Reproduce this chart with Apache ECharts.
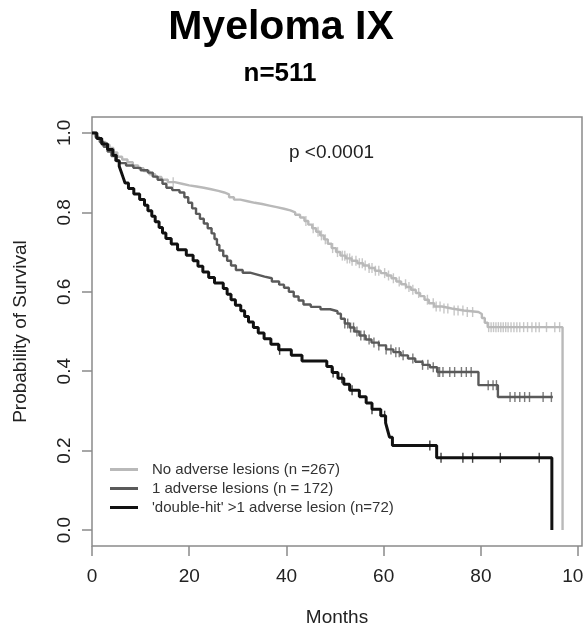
<!DOCTYPE html>
<html>
<head>
<meta charset="utf-8">
<title>Myeloma IX survival</title>
<script src="https://cdn.jsdelivr.net/npm/echarts@6/dist/echarts.min.js"></script>
<style>
  html, body { margin: 0; padding: 0; background: #fff; }
  #chart { width: 584px; height: 626px; }
</style>
</head>
<body>
<div id="chart"></div>
<script>
// Kaplan-Meier estimates: [month, survival after the event at that month]
const noAdverseCurve = [
  [0,1],[0.6,0.992],[1.2,0.985],[2,0.977],[2.8,0.970],[3.6,0.962],[4.4,0.951],[5.2,0.940],
  [6.2,0.933],[7.3,0.926],[8.4,0.918],[9.5,0.911],[10.6,0.904],[11.8,0.896],[13,0.889],
  [14.3,0.882],[15.6,0.876],[17,0.872],[18.5,0.868],[20,0.865],[21.5,0.862],[23,0.858],
  [24.5,0.854],[26,0.850],[27.2,0.845],[28.2,0.838],[29.2,0.832],[30.5,0.828],[32,0.824],
  [33.5,0.821],[35,0.817],[36.5,0.813],[38,0.809],[39.5,0.805],[40.8,0.800],[41.8,0.794],
  [42.8,0.787],[43.7,0.778],[44.5,0.769],[45.3,0.760],[46.1,0.751],[46.9,0.742],[47.7,0.732],
  [48.5,0.721],[49.3,0.710],[50.2,0.700],[51.1,0.691],[52.2,0.684],[53.4,0.678],[54.6,0.672],
  [55.8,0.666],[57,0.660],[58.2,0.653],[59.4,0.647],[60.6,0.641],[61.6,0.634],[62.6,0.626],
  [63.6,0.619],[64.6,0.612],[65.6,0.605],[66.6,0.597],[67.5,0.589],[68.4,0.580],[69.3,0.571],
  [70.4,0.563],[72,0.558],[74,0.553],[76.5,0.549],[79.5,0.544],[80.2,0.534],[80.8,0.522],
  [81.4,0.511],[96.8,0]
];
const oneAdverseCurve = [
  [0,1],[0.8,0.988],[1.6,0.977],[2.4,0.965],[3.2,0.953],[4.0,0.942],[4.8,0.930],[5.6,0.924],
  [7,0.918],[8.5,0.912],[10,0.906],[11.5,0.900],[12.5,0.890],[13.5,0.882],[14.5,0.872],
  [15.3,0.862],[16.5,0.856],[18.0,0.850],[19.0,0.838],[19.8,0.824],[20.6,0.810],[21.4,0.796],
  [22.2,0.784],[23.0,0.772],[23.8,0.760],[24.6,0.747],[25.2,0.733],[25.7,0.718],[26.2,0.704],
  [27.0,0.690],[27.8,0.678],[28.6,0.666],[29.6,0.655],[31,0.648],[32.5,0.643],[34,0.638],
  [35.5,0.634],[37,0.626],[38.5,0.618],[39.5,0.610],[40.5,0.600],[41.5,0.588],[42.5,0.578],
  [43.5,0.568],[45,0.562],[47,0.556],[49,0.551],[50.5,0.545],[51.2,0.532],[52,0.520],
  [53,0.510],[54,0.500],[55,0.490],[56.3,0.480],[57.5,0.472],[59,0.465],[60.5,0.455],
  [62,0.448],[63.5,0.440],[65,0.432],[66.5,0.424],[68,0.416],[69.5,0.410],[71,0.398],
  [79.5,0.365],[83.5,0.335],[94.8,0.335]
];
const doubleHitCurve = [
  [0,1],[1.0,0.986],[2.0,0.972],[3.2,0.958],[4.3,0.944],[5.0,0.930],[5.6,0.916],[6.0,0.902],
  [6.4,0.888],[6.8,0.874],[7.5,0.860],[8.6,0.846],[9.8,0.832],[10.8,0.818],[11.5,0.804],
  [12.3,0.790],[13.0,0.776],[13.8,0.762],[14.5,0.748],[15.2,0.734],[16.3,0.720],[17.6,0.706],
  [19.4,0.692],[20.8,0.678],[21.8,0.664],[22.8,0.650],[24.0,0.636],[25.2,0.622],[27.0,0.608],
  [27.8,0.594],[28.6,0.580],[29.5,0.566],[30.6,0.552],[31.4,0.538],[32.2,0.524],[33.2,0.510],
  [34.2,0.496],[35.4,0.482],[36.8,0.468],[38.4,0.454],[41.0,0.440],[43.2,0.426],[48.3,0.412],
  [49.4,0.397],[50.6,0.382],[51.8,0.367],[53.0,0.352],[55.0,0.336],[56.4,0.320],[57.6,0.304],
  [59.4,0.288],[60.4,0.270],[60.8,0.252],[61.2,0.234],[61.8,0.213],[70.9,0.182],[94.6,0]
];

// Censoring times (months) for each group
const noAdverseCensored = [
  16.7,44,45.5,46.5,47.2,48,49.5,50.5,51.5,52,52.5,53,53.5,54.3,55,55.6,56.2,57,57.6,58.3,
  59,60.2,61,62,63.2,64.5,65.2,66,67.2,69,70.2,70.8,71.6,72.4,73.2,74.5,75.3,76.3,77.2,78.3,
  81.6,82.1,82.6,83.1,83.6,84.1,84.6,85.1,85.6,86.2,86.8,87.4,88,88.8,89.6,90.5,91.3,92,
  93.5,95.2,96.2
];
const oneAdverseCensored = [
  52,52.6,53.2,53.8,54.5,55.3,56,57,58,59,60.5,61.5,62.5,63.2,64,66,68,69.1,70.2,71.2,71.5,
  72.2,73.6,74.6,76,77,78,81.5,82.5,83.2,86,87,88,89,90,92.8,94.5
];
const doubleHitCensored = [38.6,49.6,51.4,53.5,57.6,60.2,69.5,71.8,76.3,78.3,84,92];

const groupNames = [
  'No adverse lesions (n =267)',
  '1 adverse lesions (n = 172)',
  "'double-hit' >1 adverse lesion (n=72)"
];
const xTicks = [0, 20, 40, 60, 80, 100];
const yTicks = [0, 0.2, 0.4, 0.6, 0.8, 1.0];
const pValueText = 'p <0.0001';

// survival estimate in effect at time t (right-continuous step function)
function survivalAt(curve, t) {
  let s = curve[0][1];
  for (const [time, value] of curve) {
    if (time <= t) s = value; else break;
  }
  return s;
}
function censorPoints(curve, times) {
  return times.map(t => [t, survivalAt(curve, t)]);
}

const FONT = '"Liberation Sans", Arial, Helvetica, sans-serif';
const TEXT = '#222';
const AXIS = '#8a8a8a';
const groupColors = ['#b9b9b9', '#5a5a5a', '#111111'];
const groupWidths = [2.4, 2.4, 3];
const curves = [noAdverseCurve, oneAdverseCurve, doubleHitCurve];
const censored = [noAdverseCensored, oneAdverseCensored, doubleHitCensored];

const series = [];
curves.forEach((curve, i) => {
  series.push({
    name: groupNames[i],
    type: 'line',
    step: 'end',
    data: curve,
    showSymbol: false,
    symbol: 'none',
    z: 3 + i,
    lineStyle: { color: groupColors[i], width: groupWidths[i] },
    itemStyle: { color: groupColors[i] }
  });
  series.push({
    name: groupNames[i] + ' censored',
    type: 'scatter',
    data: censorPoints(curve, censored[i]),
    symbol: 'rect',
    symbolSize: [1.4, 10],
    silent: true,
    z: 3 + i,
    itemStyle: { color: groupColors[i] }
  });
});

const chart = echarts.init(document.getElementById('chart'), null, { renderer: 'canvas' });
chart.setOption({
  animation: false,
  backgroundColor: '#fff',
  textStyle: { fontFamily: FONT },
  grid: {
    left: 92, top: 117, width: 490, height: 429,
    outerBoundsMode: 'none',
    containLabel: false,
    show: true, borderColor: AXIS, borderWidth: 1.5, backgroundColor: 'transparent'
  },
  xAxis: {
    type: 'value',
    min: 0, max: 100.8,
    interval: 20,
    name: 'Months',
    nameLocation: 'middle',
    nameGap: 62,
    nameTextStyle: { color: TEXT, fontSize: 19, fontFamily: FONT },
    axisLine: { show: false, onZero: false },
    axisTick: { show: true, length: 10, customValues: xTicks, lineStyle: { color: AXIS, width: 1.5 } },
    axisLabel: { customValues: xTicks, color: TEXT, fontSize: 19, fontFamily: FONT, margin: 21 },
    splitLine: { show: false }
  },
  yAxis: {
    type: 'value',
    min: -0.04, max: 1.04,
    interval: 0.2,
    name: 'Probability of Survival',
    nameLocation: 'middle',
    nameGap: 62,
    nameTextStyle: { color: TEXT, fontSize: 19, fontFamily: FONT },
    axisLine: { show: false, onZero: false },
    axisTick: { show: true, length: 10, customValues: yTicks, lineStyle: { color: AXIS, width: 1.5 } },
    axisLabel: {
      customValues: yTicks, color: TEXT, fontSize: 19, fontFamily: FONT,
      rotate: 90, margin: 18,
      formatter: v => v.toFixed(1)
    },
    splitLine: { show: false }
  },
  legend: {
    data: groupNames,
    orient: 'vertical',
    left: 110, top: 460,
    padding: 0,
    itemWidth: 28, itemHeight: 3,
    itemGap: 0,
    icon: 'rect',
    textStyle: { color: '#333', fontSize: 15, fontFamily: FONT, lineHeight: 19, padding: [0, 0, 0, 9] },
    selectedMode: false
  },
  graphic: [
    { type: 'text', x: 281, y: 28,
      style: { text: 'Myeloma IX', font: 'bold 41px ' + FONT, fill: '#000', align: 'center', verticalAlign: 'middle' } },
    { type: 'text', x: 280, y: 74,
      style: { text: 'n=511', font: 'bold 26px ' + FONT, fill: '#000', align: 'center', verticalAlign: 'middle' } },
    { type: 'text', x: 289, y: 153,
      style: { text: pValueText, font: '19px ' + FONT, fill: TEXT, align: 'left', verticalAlign: 'middle' } }
  ],
  series: series
});
</script>
</body>
</html>
